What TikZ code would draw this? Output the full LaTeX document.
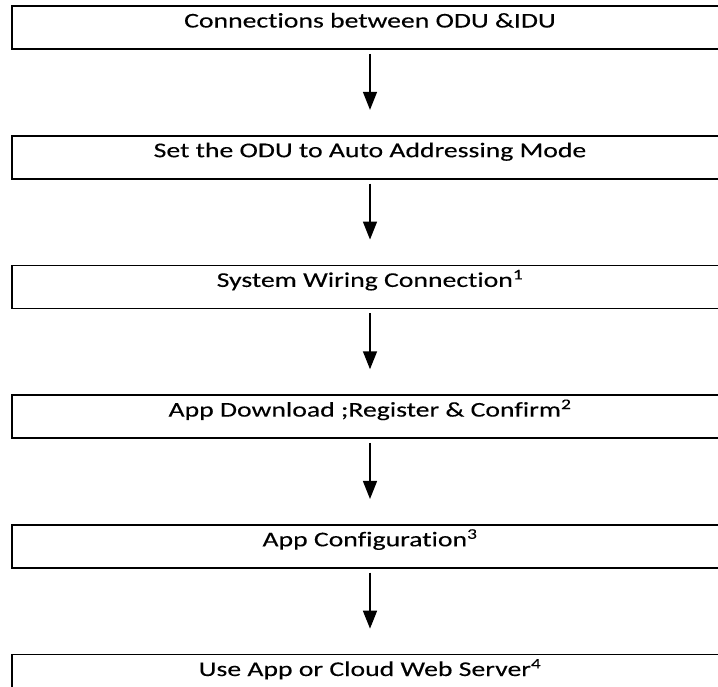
\documentclass[tikz,border=0pt]{standalone}
\usepackage{fontspec}
\setmainfont[FakeStretch=1.32,FakeBold=0.2,Ligatures=NoCommon]{Carlito}
\usetikzlibrary{positioning,arrows.meta}

\begin{document}
\begin{tikzpicture}[x=1pt,y=1pt,
    stepbox/.style={draw, line width=1.7pt, minimum width=716pt, minimum height=43pt,
      inner sep=0pt, text height=14pt, text depth=14pt, font=\fontsize{21}{25}\selectfont},
    flow/.style={line width=1.5pt, -{Triangle[width=14pt,length=18pt]},
      shorten <=4pt, shorten >=25pt},
    node distance=85pt]
    \clip (0,0) rectangle (718,-686);

    \node[stepbox] (s1) at (370,-27.5) {Connections between ODU \&IDU};
    \node[stepbox, below=of s1] (s2) {Set the ODU to Auto Addressing Mode};
    \node[stepbox, below=of s2] (s3) {System Wiring Connection\textsuperscript{1}};
    \node[stepbox, below=of s3] (s4) {App Download ;Register \& Confirm\textsuperscript{2}};
    \node[stepbox, below=of s4] (s5) {App Configuration\textsuperscript{3}};
    \node[stepbox, below=of s5] (s6) {Use App or Cloud Web Server\textsuperscript{4}};

    \foreach \a/\b in {s1/s2, s2/s3, s3/s4, s4/s5, s5/s6}
      \draw[flow] (\a) -- (\b);
\end{tikzpicture}
\end{document}
